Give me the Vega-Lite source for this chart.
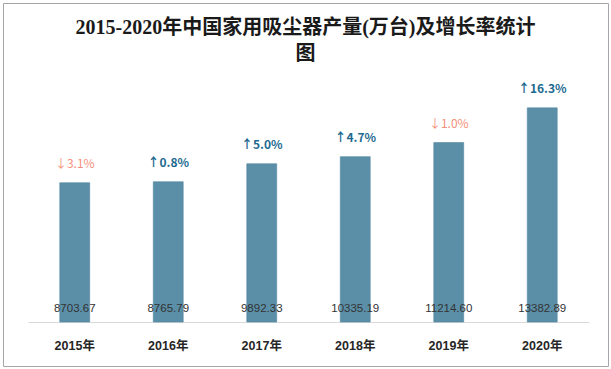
{
  "$schema": "https://vega.github.io/schema/vega-lite/v6.json",
  "width": 605,
  "height": 363,
  "autosize": "none",
  "padding": 3,
  "background": "white",
  "config": {"view": {"stroke": "#a6a6a6", "strokeWidth": 1}},
  "title": {
    "text": ["2015-2020年中国家用吸尘器产量(万台)及增长率统计", "图"],
    "frame": "group",
    "anchor": "middle",
    "offset": -61,
    "fontSize": 20,
    "font": "Liberation Serif, Noto Sans CJK SC",
    "fontWeight": "bold",
    "color": "#1a1a1a",
    "lineHeight": 26
  },
  "data": {
    "values": [
      {"year": "2015年", "output": 8703.67, "growth": "↓3.1%", "dir": "down"},
      {"year": "2016年", "output": 8765.79, "growth": "↑0.8%", "dir": "up"},
      {"year": "2017年", "output": 9892.33, "growth": "↑5.0%", "dir": "up"},
      {"year": "2018年", "output": 10335.19, "growth": "↑4.7%", "dir": "up"},
      {"year": "2019年", "output": 11214.60, "growth": "↓1.0%", "dir": "down"},
      {"year": "2020年", "output": 13382.89, "growth": "↑16.3%", "dir": "up"}
    ]
  },
  "encoding": {
    "x": {
      "field": "year",
      "type": "nominal",
      "sort": null,
      "title": null,
      "scale": {"range": [25, 586], "paddingInner": 0.68, "paddingOuter": 0.34},
      "axis": {
        "offset": -44,
        "domainColor": "#d9d9d9",
        "domainWidth": 1,
        "ticks": false,
        "tickSize": 0,
        "labelPadding": 17,
        "labelAngle": 0,
        "labelFont": "Liberation Sans, Noto Sans CJK SC",
        "labelFontSize": 12.5,
        "labelFontWeight": "bold",
        "labelColor": "#262626",
        "grid": false
      }
    }
  },
  "layer": [
    {
      "mark": {"type": "bar", "color": "#5b8fa8", "stroke": "#5287a1", "strokeWidth": 0.6},
      "encoding": {
        "y": {"field": "output", "type": "quantitative", "scale": {"domain": [0, 16000], "range": [319, 63]}, "axis": null}
      }
    },
    {
      "mark": {"type": "text", "baseline": "middle", "dy": -13, "font": "Liberation Sans", "fontSize": 11.5, "color": "#333333"},
      "encoding": {
        "y": {"datum": 0, "type": "quantitative", "scale": {"domain": [0, 16000], "range": [319, 63]}},
        "text": {"field": "output", "type": "quantitative", "format": ".2f"}
      }
    },
    {
      "transform": [{"filter": "datum.dir === 'up'"}],
      "mark": {"type": "text", "baseline": "middle", "dy": -19, "font": "Noto Sans CJK SC", "fontSize": 12, "fontWeight": "bold", "color": "#1c6a90"},
      "encoding": {
        "y": {"field": "output", "type": "quantitative", "scale": {"domain": [0, 16000], "range": [319, 63]}},
        "text": {"field": "growth"}
      }
    },
    {
      "transform": [{"filter": "datum.dir === 'down'"}],
      "mark": {"type": "text", "baseline": "middle", "dy": -19, "font": "Noto Sans CJK SC", "fontSize": 12, "color": "#f4907a"},
      "encoding": {
        "y": {"field": "output", "type": "quantitative", "scale": {"domain": [0, 16000], "range": [319, 63]}},
        "text": {"field": "growth"}
      }
    }
  ]
}
